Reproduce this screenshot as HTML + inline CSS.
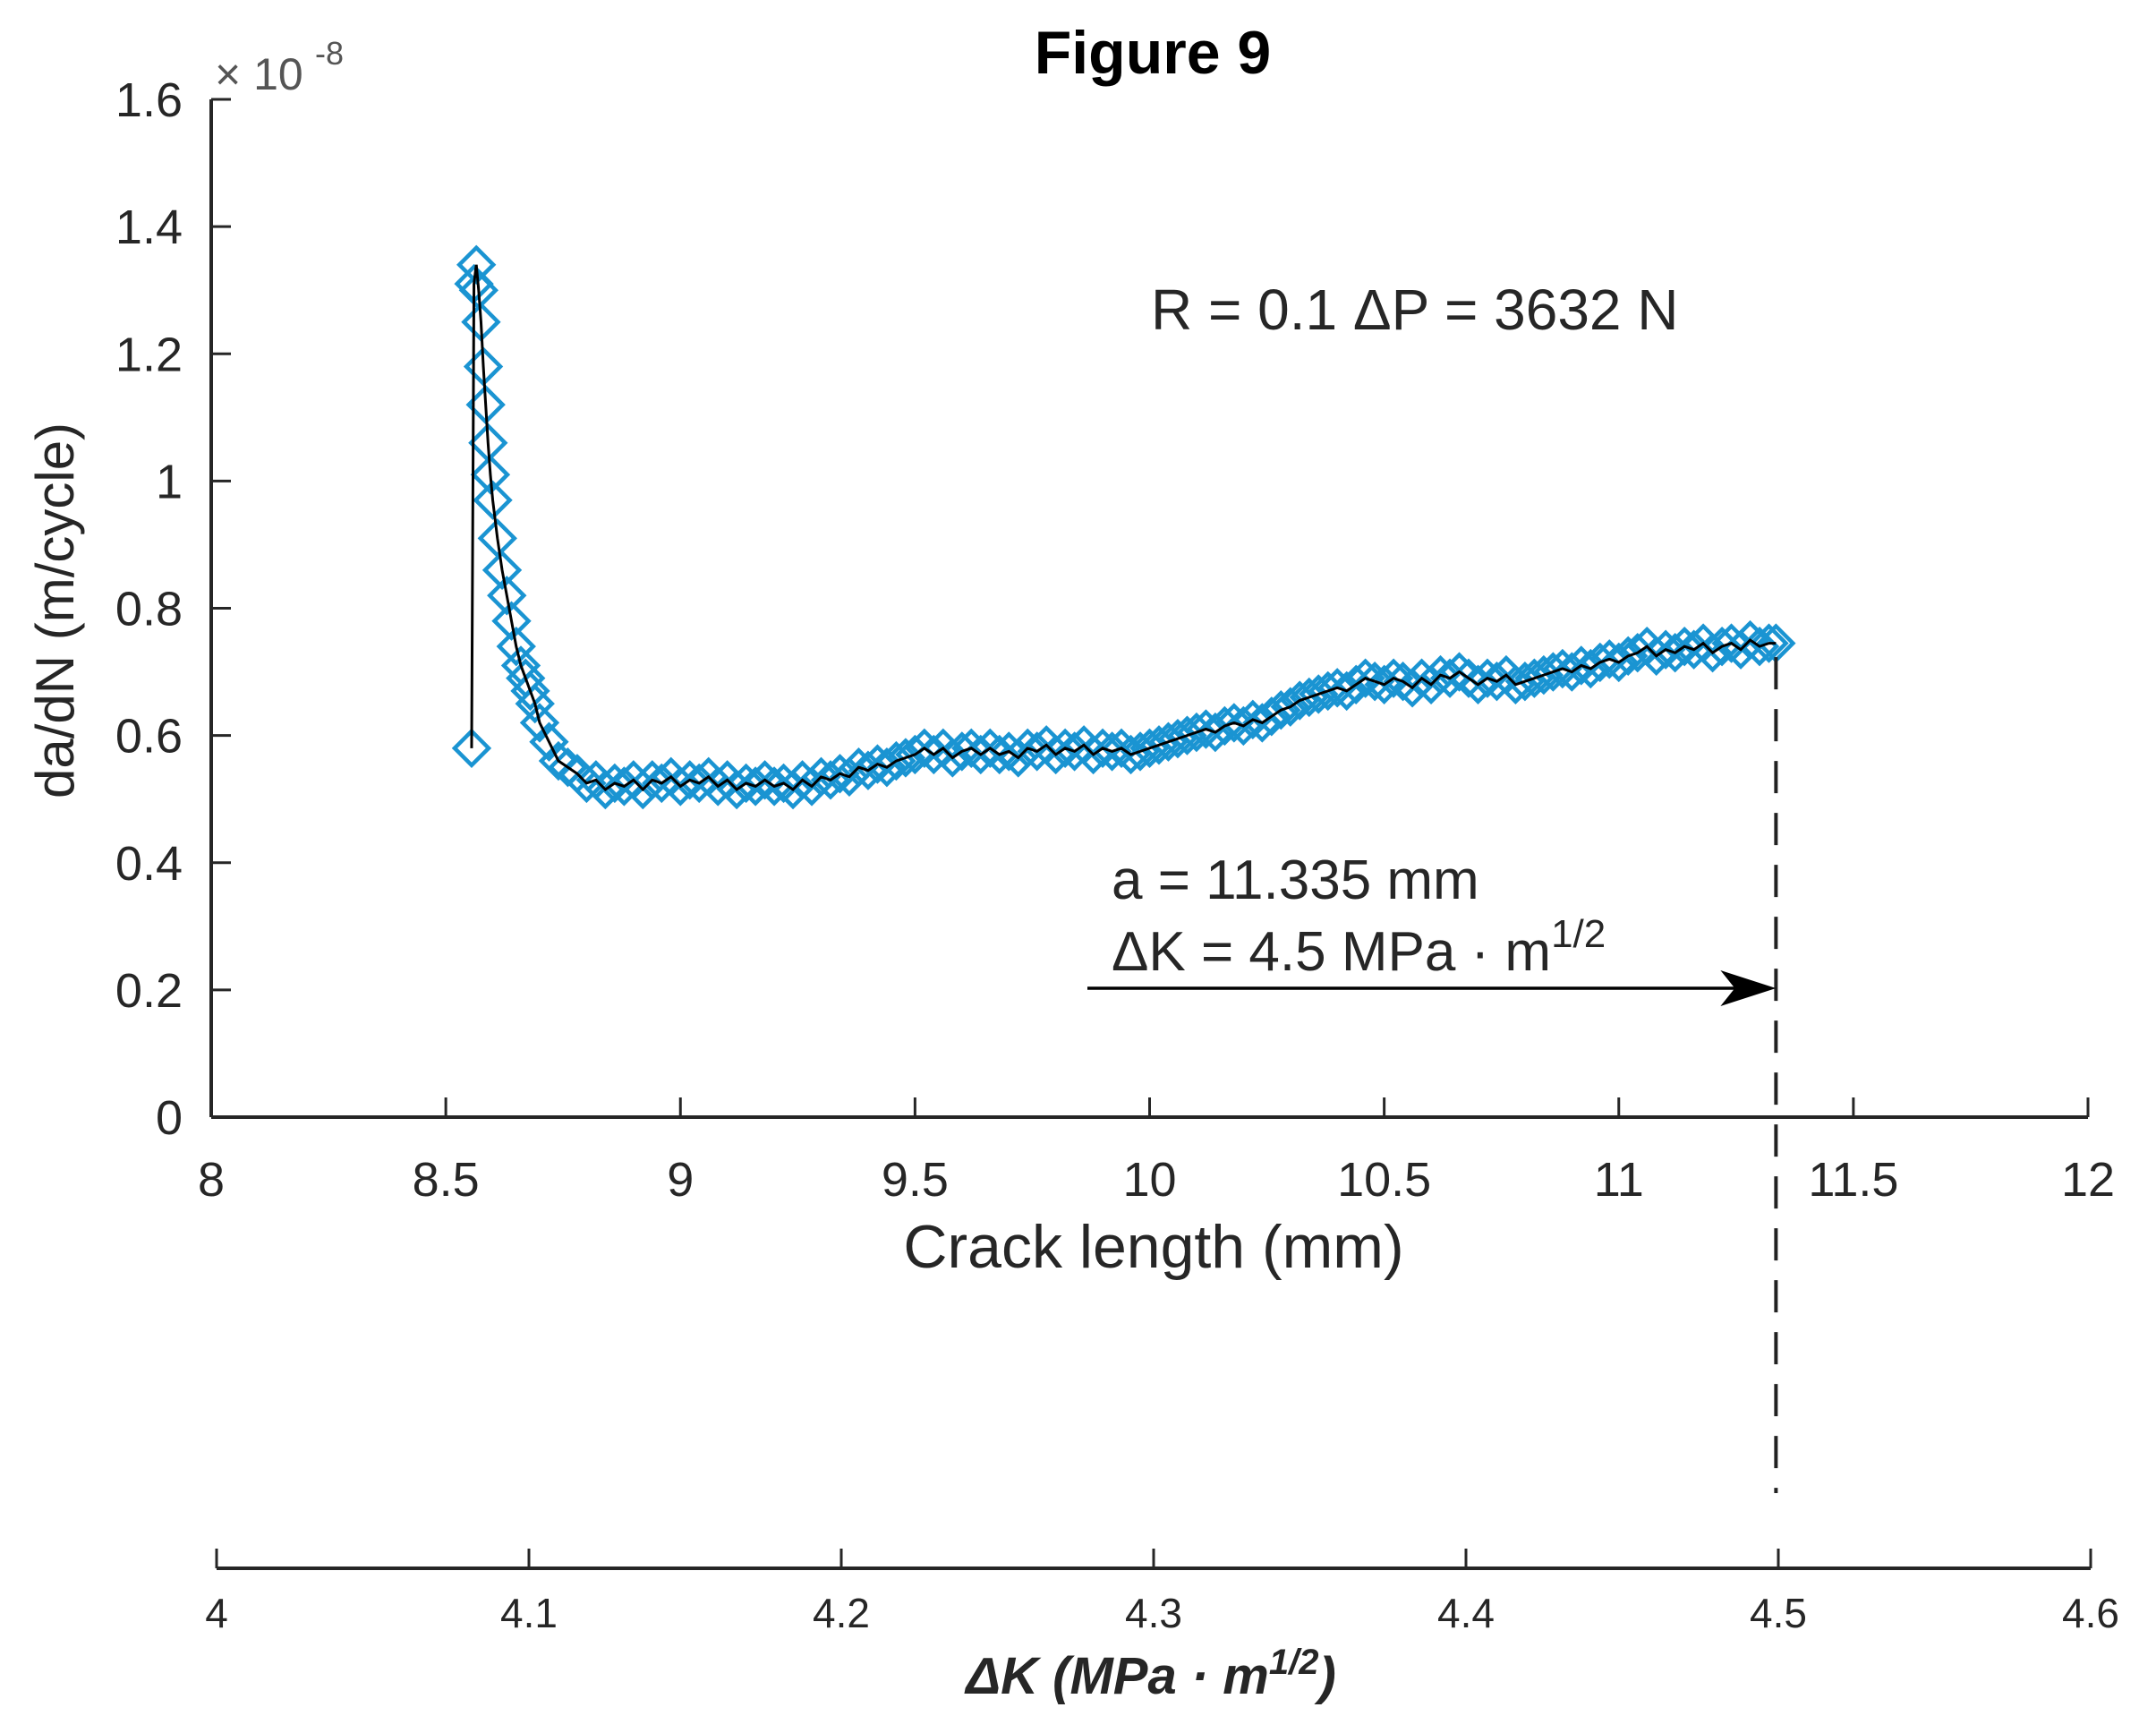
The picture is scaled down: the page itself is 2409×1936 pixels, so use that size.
<!DOCTYPE html>
<html><head><meta charset="utf-8">
<style>
html,body{margin:0;padding:0;background:#fff;}
svg{display:block;font-family:"Liberation Sans",Arial,sans-serif;}
</style></head>
<body>
<svg id="chart" width="2409" height="1936" viewBox="0 0 2409 1936" xmlns="http://www.w3.org/2000/svg">
<text x="1288" y="82" font-size="68" font-weight="bold" text-anchor="middle" fill="#000">Figure 9</text>
<g id="axes"></g>
<g id="series"></g>
<g id="annot"></g>
</svg>
<script>
const crackX = [8.555,8.560,8.565,8.570,8.575,8.580,8.585,8.590,8.595,8.60,8.61,8.62,8.63,8.64,8.65,8.66,8.67,8.68,8.69,8.70,8.72,8.74,8.76,8.78,8.80,8.82,8.84,8.86,8.88,8.90,8.92,8.94,8.96,8.98,9.00,9.02,9.04,9.06,9.08,9.10,9.12,9.14,9.16,9.18,9.20,9.22,9.24,9.26,9.28,9.30,9.32,9.34,9.36,9.38,9.40,9.42,9.44,9.46,9.48,9.50,9.52,9.54,9.56,9.58,9.60,9.62,9.64,9.66,9.68,9.70,9.72,9.74,9.76,9.78,9.80,9.82,9.84,9.86,9.88,9.90,9.92,9.94,9.96,9.98,10.00,10.02,10.04,10.06,10.08,10.10,10.12,10.14,10.16,10.18,10.20,10.22,10.24,10.26,10.28,10.30,10.32,10.34,10.36,10.38,10.40,10.42,10.44,10.46,10.48,10.50,10.52,10.54,10.56,10.58,10.60,10.62,10.64,10.66,10.68,10.70,10.72,10.74,10.76,10.78,10.80,10.82,10.84,10.86,10.88,10.90,10.92,10.94,10.96,10.98,11.00,11.02,11.04,11.06,11.08,11.10,11.12,11.14,11.16,11.18,11.20,11.22,11.24,11.26,11.28,11.30,11.32,11.335];
const rateY = [0.58,1.31,1.34,1.30,1.25,1.18,1.12,1.06,1.01,0.97,0.91,0.86,0.82,0.78,0.74,0.71,0.69,0.67,0.65,0.62,0.59,0.56,0.55,0.54,0.525,0.53,0.515,0.525,0.52,0.53,0.515,0.53,0.525,0.535,0.52,0.53,0.525,0.535,0.52,0.53,0.515,0.525,0.52,0.53,0.52,0.525,0.515,0.53,0.52,0.535,0.53,0.54,0.535,0.55,0.545,0.555,0.55,0.56,0.565,0.57,0.58,0.57,0.58,0.565,0.575,0.58,0.57,0.58,0.57,0.575,0.565,0.58,0.575,0.585,0.57,0.58,0.575,0.585,0.57,0.58,0.575,0.58,0.57,0.575,0.58,0.585,0.59,0.595,0.60,0.605,0.61,0.605,0.615,0.62,0.615,0.625,0.62,0.63,0.64,0.645,0.655,0.66,0.665,0.67,0.675,0.67,0.68,0.69,0.685,0.68,0.69,0.685,0.675,0.69,0.68,0.695,0.69,0.70,0.69,0.68,0.69,0.685,0.695,0.68,0.685,0.69,0.695,0.70,0.705,0.70,0.71,0.705,0.715,0.72,0.715,0.725,0.73,0.74,0.725,0.735,0.73,0.74,0.735,0.745,0.73,0.74,0.745,0.735,0.75,0.74,0.745,0.745];
const xTicks = [8,8.5,9,9.5,10,10.5,11,11.5,12];
const xTickLabels = ["8","8.5","9","9.5","10","10.5","11","11.5","12"];
const yTicks = [0,0.2,0.4,0.6,0.8,1,1.2,1.4,1.6];
const yTickLabels = ["0","0.2","0.4","0.6","0.8","1","1.2","1.4","1.6"];
const kTicks = [4,4.1,4.2,4.3,4.4,4.5,4.6];
const kTickLabels = ["4","4.1","4.2","4.3","4.4","4.5","4.6"];
const markA = 11.335, markK = 4.5;

const NS="http://www.w3.org/2000/svg";
const X0=236,X1=2333,Y0=1248,Y1=111;
const sx=v=>X0+(v-8)/(12-8)*(X1-X0);
const sy=v=>Y0-(v-0)/(1.6-0)*(Y0-Y1);
const K0=242,K1=2336,KY=1752;
const sk=v=>K0+(v-4)/(4.6-4)*(K1-K0);
function mk(tag,attrs,parent,txt){const e=document.createElementNS(NS,tag);for(const k in attrs)e.setAttribute(k,attrs[k]);if(txt!==undefined)e.textContent=txt;parent.appendChild(e);return e;}
const axes=document.getElementById('axes'),series=document.getElementById('series'),annot=document.getElementById('annot');
const TC="#262626";
let l=mk('line',{x1:X0,y1:Y0,x2:X1,y2:Y0,stroke:TC,'stroke-width':4},axes);


l=mk('line',{x1:X0,y1:Y0,x2:X0,y2:Y1,stroke:TC,'stroke-width':4},axes);


xTicks.forEach((v,i)=>{
  const t=mk('line',{x1:sx(v),y1:Y0,x2:sx(v),y2:Y0-22,stroke:TC,'stroke-width':3},axes);
  
  
  const tx=mk('text',{x:sx(v),y:Y0+88,'font-size':54,'text-anchor':'middle',fill:TC},axes,xTickLabels[i]);
  
  
});
yTicks.forEach((v,i)=>{
  const t=mk('line',{x1:X0,y1:sy(v),x2:X0+22,y2:sy(v),stroke:TC,'stroke-width':3},axes);
  
  
  const tx=mk('text',{x:X0-32,y:sy(v)+19,'font-size':54,'text-anchor':'end',fill:TC},axes,yTickLabels[i]);
  
  
});
let e=mk('text',{x:240,y:100,'font-size':50,fill:'#555'},axes,'× 10');


e=mk('text',{x:352,y:72,'font-size':36,fill:'#555'},axes,'-8');


e=mk('text',{x:1289,y:1416,'font-size':68,'text-anchor':'middle',fill:TC},axes,'Crack length (mm)');


e=mk('text',{x:0,y:0,'font-size':60,'text-anchor':'middle',fill:TC,transform:'translate(82,682) rotate(-90)'},axes,'da/dN (m/cycle)');


e=mk('line',{x1:K0,y1:KY,x2:K1,y2:KY,stroke:TC,'stroke-width':4},axes);


kTicks.forEach((v,i)=>{
  const t=mk('line',{x1:sk(v),y1:KY,x2:sk(v),y2:KY-22,stroke:TC,'stroke-width':3},axes);
  
  
  const tx=mk('text',{x:sk(v),y:KY+66,'font-size':46,'text-anchor':'middle',fill:TC},axes,kTickLabels[i]);
  
  
});
e=mk('text',{x:1286,y:1892,'font-size':58,'font-style':'italic','font-weight':'bold','text-anchor':'middle',fill:TC},axes);


e.innerHTML='ΔK (MPa · m<tspan dy="-22" font-size="40">1/2</tspan><tspan dy="22">)</tspan>';
const blue="#1a94d2";
crackX.forEach((v,i)=>{
  const cx=sx(v),cy=sy(rateY[i]),r=19;
  const d=mk('polygon',{points:`${cx},${cy-r} ${cx+r},${cy} ${cx},${cy+r} ${cx-r},${cy}`,fill:'none',stroke:blue,'stroke-width':4.5},series);
  
  
});
const pl=mk('polyline',{points:crackX.map((v,i)=>sx(v)+','+sy(rateY[i])).join(' '),fill:'none',stroke:'#000','stroke-width':3},series);


const ax=sx(markA);
e=mk('line',{x1:ax,y1:sy(0.74)+12,x2:ax,y2:1668,stroke:'#222','stroke-width':4,'stroke-dasharray':'36,22'},annot);


e=mk('line',{x1:1215,y1:1104,x2:ax-10,y2:1104,stroke:'#000','stroke-width':3.5},annot);


e=mk('path',{d:`M${ax-62},1084 L${ax},1104 L${ax-62},1124 L${ax-46},1104 Z`,fill:'#000'},annot);


e=mk('text',{x:1286,y:368,'font-size':64,fill:TC},annot,'R = 0.1 ΔP = 3632 N');


e=mk('text',{x:1242,y:1004,'font-size':62,fill:TC},annot,'a = 11.335 mm');


e=mk('text',{x:1242,y:1084,'font-size':62,fill:TC},annot);


e.innerHTML='ΔK = 4.5 MPa · m<tspan dy="-26" font-size="44">1/2</tspan>';
</script>
</body></html>
